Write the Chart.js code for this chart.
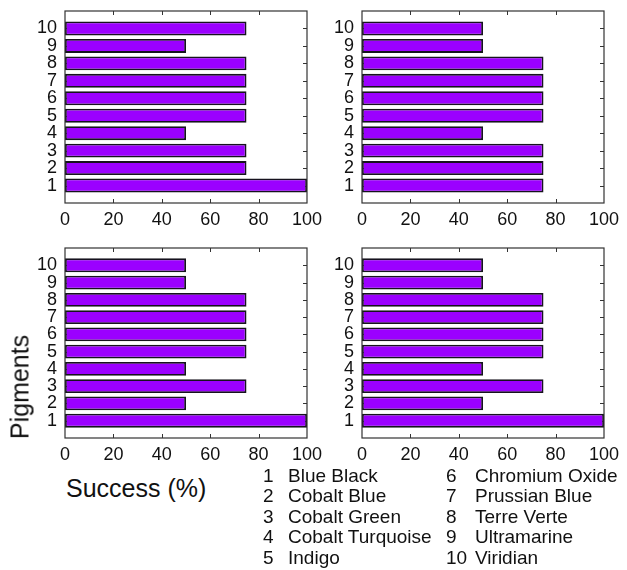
<!DOCTYPE html>
<html>
<head>
<meta charset="utf-8">
<script src="https://cdn.jsdelivr.net/npm/chart.js@4"></script>
<style>
    body { margin: 0; background: #fff; width: 627px; height: 570px; position: relative; overflow: hidden;
           font-family: "Liberation Sans", Arial, sans-serif; color: #111; }
    canvas { position: absolute; }
    .label { position: absolute; white-space: nowrap; }
    #pigments { font-size: 25px; left: 20px; top: 387px; transform: translate(-50%, -50%) rotate(-90deg); line-height: 1; }
    #success { font-size: 25px; left: 66px; top: 476px; line-height: 25px; }
    .legend { font-size: 19px; line-height: 20.4px; }
</style>
</head>
<body>
<canvas id="panel1" style="left:0px; top:0px;" width="322" height="232"></canvas>
<canvas id="panel2" style="left:297px; top:0px;" width="322" height="232"></canvas>
<canvas id="panel3" style="left:0px; top:237px;" width="322" height="230"></canvas>
<canvas id="panel4" style="left:297px; top:237px;" width="322" height="230"></canvas>

<div class="label" id="pigments">Pigments</div>
<div class="label" id="success">Success (%)</div>
<div id="legend"></div>

<script>
// pigment numbers on the y axis
const categories = [1, 2, 3, 4, 5, 6, 7, 8, 9, 10];
const pigmentNames = ['Blue Black', 'Cobalt Blue', 'Cobalt Green', 'Cobalt Turquoise', 'Indigo',
    'Chromium Oxide', 'Prussian Blue', 'Terre Verte', 'Ultramarine', 'Viridian'];

// success (%) per pigment, one array per panel
const topLeft = [100, 75, 75, 50, 75, 75, 75, 75, 50, 75];
const topRight = [75, 75, 75, 50, 75, 75, 75, 75, 50, 50];
const bottomLeft = [100, 50, 75, 50, 75, 75, 75, 75, 50, 50];
const bottomRight = [100, 50, 75, 50, 75, 75, 75, 75, 50, 50];

const xTicks = [0, 20, 40, 60, 80, 100];

const barColor = '#9b00ff';
const edgeColor = '#16121e';
const tickFont = { family: 'Liberation Sans, Arial, sans-serif', size: 18 };

// frame around the plot with small inward ticks (matlab style)
const framePlugin = {
    id: 'frame',
    beforeDatasetsDraw(chart) {
        const { ctx, chartArea: a, scales } = chart;
        ctx.save();
        ctx.strokeStyle = '#333';
        ctx.lineWidth = 1;
        ctx.beginPath();
        xTicks.slice(1, -1).forEach(v => {
            const px = Math.round(scales.x.getPixelForValue(v)) + 0.5;
            ctx.moveTo(px, a.bottom); ctx.lineTo(px, a.bottom - 4);
            ctx.moveTo(px, a.top); ctx.lineTo(px, a.top + 4);
        });
        categories.forEach(v => {
            const py = Math.round(scales.y.getPixelForValue(v)) + 0.5;
            ctx.moveTo(a.left, py); ctx.lineTo(a.left + 4, py);
            ctx.moveTo(a.right, py); ctx.lineTo(a.right - 4, py);
        });
        ctx.stroke();
        ctx.restore();
    },
    afterDraw(chart) {
        const { ctx, chartArea: a } = chart;
        ctx.save();
        ctx.strokeStyle = '#333';
        ctx.lineWidth = 1.2;
        ctx.strokeRect(a.left, a.top, a.right - a.left, a.bottom - a.top);
        ctx.restore();
    }
};

// keep the plot box where the layout padding puts it
function noOverhang(scale) {
    scale.paddingLeft = 0;
    scale.paddingRight = 0;
    scale.paddingTop = 0;
    scale.paddingBottom = 0;
}

function makePanel(id, values) {
    const ctx = document.getElementById(id).getContext('2d');
    return new Chart(ctx, {
        type: 'bar',
        data: {
            datasets: [{
                data: categories.map((c, i) => ({ x: values[i], y: c })),
                backgroundColor: barColor,
                borderColor: edgeColor,
                borderWidth: 1.8,
                borderSkipped: false,
                barPercentage: 0.8,
                categoryPercentage: 1
            }]
        },
        options: {
            indexAxis: 'y',
            responsive: false,
            animation: false,
            events: [],
            layout: { padding: { top: 11, right: 15, left: 0, bottom: 0 } },
            plugins: { legend: { display: false }, tooltip: { enabled: false } },
            scales: {
                x: {
                    type: 'linear',
                    min: 0,
                    max: 100,
                    afterBuildTicks: scale => { scale.ticks = xTicks.map(v => ({ value: v })); },
                    ticks: { color: '#111', font: tickFont, padding: 6, maxRotation: 0 },
                    grid: { display: false, drawTicks: false },
                    border: { display: false },
                    afterFit: scale => { scale.height = 29; noOverhang(scale); }
                },
                y: {
                    type: 'linear',
                    offset: false,
                    min: 0,
                    max: 11,
                    afterBuildTicks: scale => { scale.ticks = categories.map(v => ({ value: v })); },
                    ticks: {
                        color: '#111',
                        font: tickFont,
                        padding: 8,
                        autoSkip: false,
                        callback: v => String(categories[v - 1])
                    },
                    grid: { display: false, drawTicks: false, offset: false },
                    border: { display: false },
                    afterFit: scale => { scale.width = 65; noOverhang(scale); }
                }
            }
        },
        plugins: [framePlugin]
    });
}

makePanel('panel1', topLeft);
makePanel('panel2', topRight);
makePanel('panel3', bottomLeft);
makePanel('panel4', bottomRight);

// numbered key of pigment names under the panels
const legendCols = [
    { num: 263, name: 288 },
    { num: 446, name: 475 }
];
const legend = document.getElementById('legend');
pigmentNames.forEach((name, i) => {
    const col = legendCols[Math.floor(i / 5)];
    const top = 466 + (i % 5) * 20.4;
    const n = document.createElement('div');
    n.className = 'label legend';
    n.style.left = col.num + 'px';
    n.style.top = top + 'px';
    n.textContent = categories[i];
    legend.appendChild(n);
    const t = document.createElement('div');
    t.className = 'label legend';
    t.style.left = col.name + 'px';
    t.style.top = top + 'px';
    t.textContent = name;
    legend.appendChild(t);
});
</script>
</body>
</html>
